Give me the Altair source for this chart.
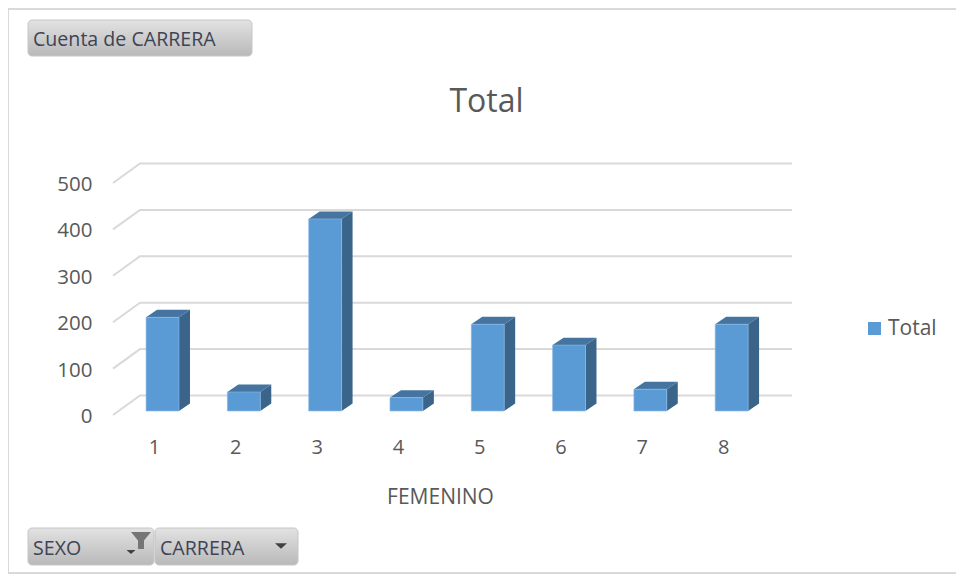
import altair as alt
import pandas as pd

# ---- data
categories = [1, 2, 3, 4, 5, 6, 7, 8]
totals = [202, 41, 414, 29, 187, 142, 47, 187]
y_ticks = [0, 100, 200, 300, 400, 500]

FONT = "Open Sans"
GREY = "#595959"
GRID = "#d9d9d9"
FRONT = "#5b9bd5"
TOP = "#44749f"
SIDE = "#3a648a"

# page geometry of the plot area
LEFT, TOP_PX, RIGHT, BOTTOM = 113, 183, 792, 415
W, H = RIGHT - LEFT, BOTTOM - TOP_PX
OUT_W, OUT_H = 948, 566

STEP = 81.3
X_FRONT = 1 - 41 / STEP
X_END = 1 + 638 / STEP
x_scale = alt.Scale(domain=[X_FRONT, X_END], nice=False, zero=False)
y_scale = alt.Scale(domain=[0, 500], nice=False)

# 3-D projection in data units
BAR_W = 0.405
BAR_SHIFT = 0.105
BAR_BASE = 8.6
BAR_DX = 0.135
BAR_DV = 16
WALL_DX = 27 / STEP
WALL_DV = 42

# ---- tables
grid_rows = []
for t in y_ticks:
    grid_rows += [
        dict(t=t, o=0, x=X_FRONT, y=t),
        dict(t=t, o=1, x=X_FRONT + WALL_DX, y=t + WALL_DV),
        dict(t=t, o=2, x=X_END, y=t + WALL_DV),
    ]
grid_df = pd.DataFrame(grid_rows)

front_rows, side_rows, top_rows = [], [], []
for c, v in zip(categories, totals):
    xl = c + BAR_SHIFT - BAR_W / 2
    xr = c + BAR_SHIFT + BAR_W / 2
    b, t = BAR_BASE, BAR_BASE + v
    front_rows.append(dict(c=c, xl=xl, xr=xr, b=b, t=t, s="Total"))
    side_rows += [
        dict(c=c, x=xr, y=t, y2=b),
        dict(c=c, x=xr + BAR_DX, y=t + BAR_DV, y2=b + BAR_DV),
    ]
    top_rows += [
        dict(c=c, x=xl, y=t, y2=t),
        dict(c=c, x=xl + BAR_DX, y=t + BAR_DV, y2=t),
        dict(c=c, x=xr, y=t + BAR_DV, y2=t),
        dict(c=c, x=xr + BAR_DX, y=t + BAR_DV, y2=t + BAR_DV),
    ]
front_df = pd.DataFrame(front_rows)
side_df = pd.DataFrame(side_rows)
top_df = pd.DataFrame(top_rows)

one = pd.DataFrame({"a": [0]})


def px(v):
    return alt.value(v - LEFT)


def py(v):
    return alt.value(v - TOP_PX)


x_axis = alt.Axis(values=categories, format="d", domain=False, ticks=False, grid=False,
                  labelFont=FONT, labelFontSize=20, labelColor=GREY, labelPadding=22,
                  titleFont=FONT, titleFontSize=21, titleFontWeight="normal", titleColor=GREY,
                  titleX=440 - LEFT, titleY=88, titleBaseline="alphabetic", title="FEMENINO")
y_axis = alt.Axis(values=y_ticks, format="d", domain=False, ticks=False, grid=False,
                  labelFont=FONT, labelFontSize=20.5, labelColor=GREY, labelPadding=21,
                  labelOffset=1.5, title=None)

X = lambda f: alt.X(f, type="quantitative", scale=x_scale, axis=x_axis)
Y = lambda f: alt.Y(f, type="quantitative", scale=y_scale, axis=y_axis)

grid = alt.Chart(grid_df).mark_line(color=GRID, strokeWidth=2).encode(
    x=X("x"), y=Y("y"), detail="t:N", order="o:Q")

side = alt.Chart(side_df).mark_area(color=SIDE, interpolate="linear").encode(
    x=X("x"), y=Y("y"), y2="y2:Q", detail="c:N")
top = alt.Chart(top_df).mark_area(color=TOP, interpolate="linear").encode(
    x=X("x"), y=Y("y"), y2="y2:Q", detail="c:N")
front = alt.Chart(front_df).mark_rect(stroke="#8dbbe6", strokeWidth=0.6).encode(
    x=X("xl"), x2="xr:Q", y=Y("t"), y2="b:Q",
    color=alt.Color("s:N", scale=alt.Scale(domain=["Total"], range=[FRONT]),
                    legend=alt.Legend(title=None, orient="none",
                                      legendX=864 - LEFT, legendY=318 - TOP_PX,
                                      symbolType="square", symbolSize=170, symbolStrokeWidth=0,
                                      labelFont=FONT, labelFontSize=21, labelColor=GREY, labelOffset=3)),
)


# ---- pivot-chart furniture
def gradient():
    return alt.Gradient(gradient="linear", x1=0, x2=0, y1=0, y2=1,
                        stops=[alt.GradientStop(offset=0, color="#e2e2e2"),
                               alt.GradientStop(offset=1, color="#b9b9b9")])


def button(x0, y0, x1, y1, label, tx):
    box = alt.Chart(one).mark_rect(fill=gradient(), stroke="#c6c6c6", strokeWidth=1, cornerRadius=4).encode(
        x=px(x0), x2=px(x1), y=py(y0), y2=py(y1))
    txt = alt.Chart(one).mark_text(text=label, font=FONT, fontSize=19.6, color="#3f4354", align="left",
                                   baseline="middle").encode(x=px(tx), y=py((y0 + y1) / 2 + 2))
    return box + txt


def glyph(path, x, y, size, color):
    return alt.Chart(one).mark_point(shape=path, filled=True, color=color, size=size, opacity=1,
                                     strokeWidth=0).encode(x=px(x), y=py(y))


TRI = "M-1,-0.45 L1,-0.45 L0,0.45 Z"
FUNNEL = "M-1,-0.85 L1,-0.85 L0.3,0 L0.3,0.85 L-0.3,0.85 L-0.3,0 Z"

frame_left = alt.Chart(one).mark_rule(color=GRID, strokeWidth=2).encode(
    x=px(8), y=py(8), y2=py(574))
frame_top = alt.Chart(one).mark_rule(color=GRID, strokeWidth=2).encode(
    x=px(8), x2=px(956), y=py(9))
frame_bottom = alt.Chart(one).mark_rule(color=GRID, strokeWidth=2).encode(
    x=px(8), x2=px(956), y=py(573))

title = alt.Chart(one).mark_text(text="Total", font=FONT, fontSize=32, color=GREY, align="center",
                                 baseline="middle").encode(x=px(486.5), y=py(102))

layers = alt.layer(
    frame_left, frame_top, frame_bottom,
    grid, side, top, front, title,
    button(28, 20, 252, 56, "Cuenta de CARRERA", 33),
    button(28, 528, 154, 565, "SEXO", 33),
    button(155, 528, 298, 565, "CARRERA", 160),
    glyph(FUNNEL, 141, 540.5, 400, "#757575"),
    glyph(TRI, 131, 552, 81, "#404040"),
    glyph(TRI, 281, 546, 144, "#404040"),
)
chart = layers.properties(
    width=W, height=H,
    padding={"left": LEFT - 8, "top": TOP_PX - 8, "right": OUT_W - (RIGHT - 8), "bottom": OUT_H - (BOTTOM - 8)},
    autosize=alt.AutoSizeParams(type="none"),
    background="white",
).configure_view(stroke=None)

chart.save("out.html", embed_options={"renderer": "svg", "actions": False})
